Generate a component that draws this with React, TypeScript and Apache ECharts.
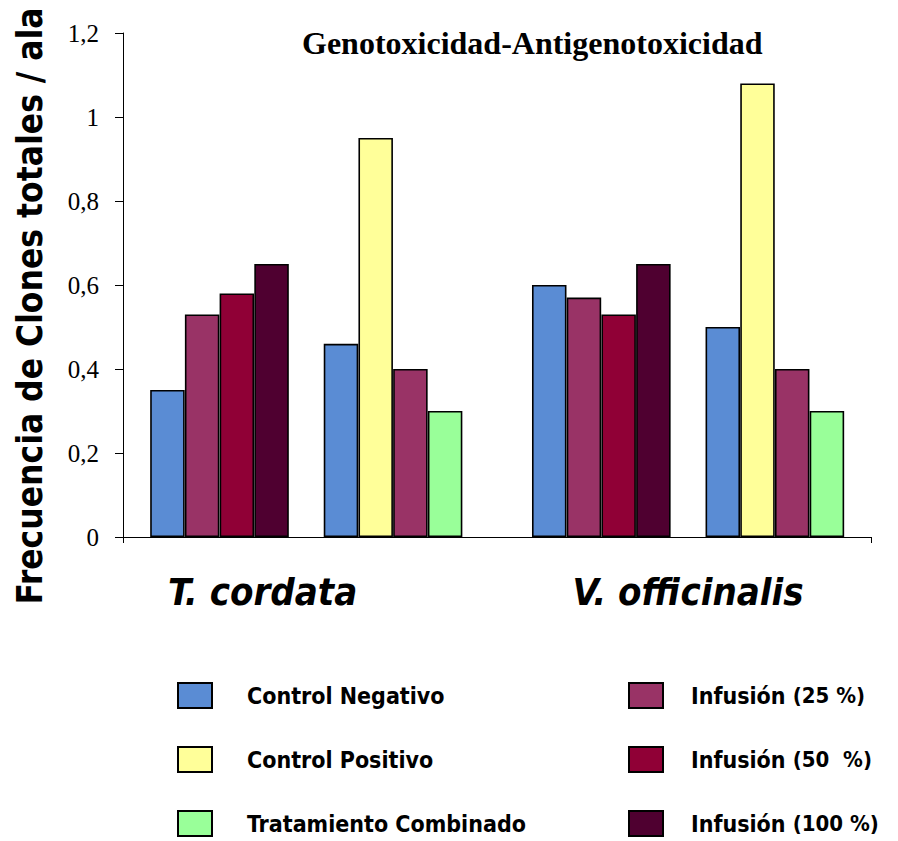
import React, { useEffect, useRef } from 'react';
import * as echarts from 'echarts';

// Series (legend) names and colours
const seriesNames = [
  'Control Negativo',
  'Control Positivo',
  'Tratamiento Combinado',
  'Infusión (25 %)',
  'Infusión (50  %)',
  'Infusión (100 %)',
];
const seriesColors = ['#5A8CD4', '#FFFF99', '#99FF99', '#993366', '#900036', '#4F0030'];

// Values per group: [T. cordata geno, T. cordata antigeno, V. officinalis geno, V. officinalis antigeno]
const controlNegativo = [0.35, 0.46, 0.6, 0.5];
const controlPositivo = [null, 0.95, null, 1.08];
const tratamientoCombinado = [null, 0.3, null, 0.3];
const infusion25 = [0.53, 0.4, 0.57, 0.4];
const infusion50 = [0.58, null, 0.53, null];
const infusion100 = [0.65, null, 0.65, null];
const seriesValues = [controlNegativo, controlPositivo, tratamientoCombinado, infusion25, infusion50, infusion100];

// Bar order inside each group (indices into seriesNames)
const genotoxOrder = [0, 3, 4, 5];
const antigenotoxOrder = [0, 1, 3, 2];
const groupOrders = [genotoxOrder, antigenotoxOrder, genotoxOrder, antigenotoxOrder];
const groupStartSlot = [0, 5, 11, 16];

// Species labels on the x axis
const speciesLabels = ['T. cordata', 'V. officinalis'];
const speciesLabelSlot = [2.74, 15.0];

const X_MIN = -1.28;
const X_MAX = 20.27;

const SANS = '"DejaVu Sans Condensed", "DejaVu Sans", sans-serif';
const SERIF = '"Liberation Serif", "Times New Roman", serif';

function buildSeries() {
  return seriesNames.map((name, s) => {
    const data: any[] = [];
    groupOrders.forEach((order, g) => {
      const k = order.indexOf(s);
      const v = seriesValues[s][g];
      if (k >= 0 && v != null) data.push([groupStartSlot[g] + k, v]);
    });
    return {
      name,
      type: 'bar',
      data,
      barWidth: 34.5,
      barGap: '-100%',
      itemStyle: { color: seriesColors[s], borderColor: '#000', borderWidth: 1.6 },
    };
  });
}

export default function App() {
  const ref = useRef<HTMLDivElement>(null);
  useEffect(() => {
    if (!ref.current) return;
    const chart = echarts.init(ref.current, undefined, { renderer: 'svg' });
    const legendBase = {
      orient: 'vertical',
      icon: 'rect',
      itemWidth: 34,
      itemHeight: 25,
      itemGap: 37,
      padding: 0,
      height: 160,
      selectedMode: false,
    };
    chart.setOption({
      animation: false,
      backgroundColor: '#fff',
      title: {
        text: 'Genotoxicidad-Antigenotoxicidad',
        left: 302,
        top: 27,
        padding: 0,
        textStyle: { fontFamily: SERIF, fontWeight: 'bold', fontSize: 32, color: '#000' },
      },
      legend: [
        {
          ...legendBase,
          left: 177,
          top: 682,
          data: seriesNames.slice(0, 3),
          textStyle: {
            fontFamily: SANS,
            fontWeight: 'bold',
            fontSize: 23,
            color: '#000',
            padding: [0, 0, 0, 30],
          },
        },
        {
          ...legendBase,
          left: 628,
          top: 682,
          data: seriesNames.slice(3),
          formatter: (name: string) => name.replace(/^(\S+)\s+(.*)$/, '{a|$1} {b|$2}'),
          textStyle: {
            fontFamily: SANS,
            fontWeight: 'bold',
            fontSize: 23,
            color: '#000',
            padding: [0, 0, 0, 23],
            rich: {
              a: { fontFamily: SANS, fontWeight: 'bold', fontSize: 23, color: '#000' },
              b: { fontFamily: SANS, fontWeight: 'bold', fontSize: 22, color: '#000' },
            },
          },
        },
      ],
      grid: { left: 123, right: 898 - 871, top: 33, bottom: 841 - 537, containLabel: false },
      xAxis: {
        type: 'value',
        min: X_MIN,
        max: X_MAX,
        splitLine: { show: false },
        axisLine: { show: true, onZero: false, lineStyle: { color: '#000', width: 1 } },
        axisTick: { show: true, customValues: [X_MIN, X_MAX], length: 6, lineStyle: { color: '#000' } },
        axisLabel: {
          customValues: speciesLabelSlot,
          margin: 36,
          fontFamily: SANS,
          fontWeight: 'bold',
          fontStyle: 'italic',
          fontSize: 38,
          color: '#000',
          formatter: (v: number) => {
            let best = 0;
            speciesLabelSlot.forEach((p, i) => {
              if (Math.abs(p - v) < Math.abs(speciesLabelSlot[best] - v)) best = i;
            });
            return speciesLabels[best];
          },
        },
      },
      yAxis: {
        type: 'value',
        min: 0,
        max: 1.2,
        interval: 0.2,
        splitLine: { show: false },
        axisLine: { show: true, onZero: false, lineStyle: { color: '#000', width: 1 } },
        axisTick: { show: true, inside: false, length: 8, lineStyle: { color: '#000' } },
        axisLabel: {
          margin: 24,
          fontFamily: SERIF,
          fontSize: 25,
          color: '#000',
          formatter: (v: number) => String(Math.round(v * 10) / 10).replace('.', ','),
        },
        name: 'Frecuencia de Clones totales / ala',
        nameLocation: 'middle',
        nameRotate: 90,
        nameGap: 76,
        nameTextStyle: {
          fontFamily: SANS,
          fontWeight: 'bold',
          fontSize: 35,
          color: '#000',
          padding: [0, 42, 0, 0],
        },
      },
      series: buildSeries(),
    });
    return () => chart.dispose();
  }, []);
  return (
    <div
      ref={ref}
      style={{ position: 'fixed', left: 0, top: 0, width: 898, height: 841, background: '#fff' }}
    />
  );
}
